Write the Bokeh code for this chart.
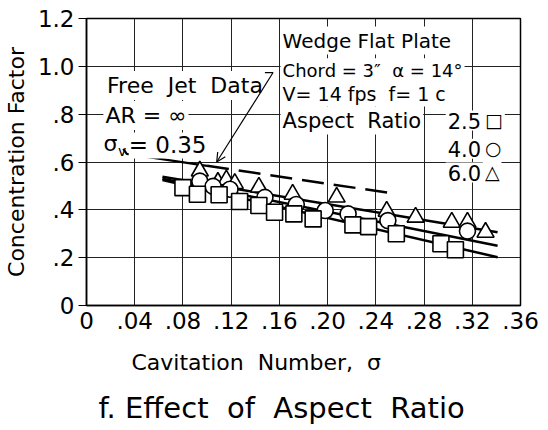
from bokeh.plotting import figure
from bokeh.models import Label, Title, FixedTicker, Arrow, OpenHead
from bokeh.embed import file_html
from bokeh.resources import INLINE

# ---------------- data ----------------
sigma_ar25 = [0.080, 0.092, 0.110, 0.127, 0.143, 0.156, 0.172, 0.188, 0.221, 0.234, 0.257, 0.294, 0.306]
cf_ar25    = [0.493, 0.465, 0.463, 0.435, 0.418, 0.390, 0.383, 0.362, 0.337, 0.330, 0.300, 0.258, 0.233]

sigma_ar40 = [0.094, 0.105, 0.119, 0.148, 0.174, 0.198, 0.217, 0.250, 0.316]
cf_ar40    = [0.520, 0.498, 0.486, 0.452, 0.422, 0.397, 0.383, 0.355, 0.311]

sigma_ar60 = [0.094, 0.109, 0.116, 0.123, 0.143, 0.171, 0.2075, 0.249, 0.273, 0.303, 0.316, 0.331]
cf_ar60    = [0.562, 0.515, 0.525, 0.510, 0.495, 0.465, 0.453, 0.394, 0.369, 0.348, 0.348, 0.306]

fit_sigma = [0.063, 0.341]
fit_ar25  = [0.525, 0.202]
fit_ar40  = [0.530, 0.250]
fit_ar60  = [0.538, 0.306]

jet_lead_sigma = [0.0305, 0.0334, 0.100]
jet_lead_cf    = [0.655, 0.634, 0.584]
jet_sigma = [0.100, 0.2535]
jet_cf    = [0.584, 0.469]

x_ticks = [0, 0.04, 0.08, 0.12, 0.16, 0.20, 0.24, 0.28, 0.32, 0.36]
x_tick_labels = ["0", ".04", ".08", ".12", ".16", ".20", ".24", ".28", ".32", ".36"]
y_ticks = [0, 0.2, 0.4, 0.6, 0.8, 1.0, 1.2]
y_tick_labels = ["0", ".2", ".4", ".6", ".8", "1.0", "1.2"]

FONT = "DejaVu Sans"
NB = "\u00a0"

p = figure(width=548, height=430, x_range=(0, 0.36), y_range=(0, 1.2),
           output_backend="svg", toolbar_location=None,
           min_border_left=86, min_border_right=28, min_border_top=18, min_border_bottom=125)
p.background_fill_color = "white"
p.border_fill_color = "white"
p.outline_line_color = "black"
p.outline_line_width = 1.5

# axes
p.xaxis.ticker = FixedTicker(ticks=x_ticks)
p.xaxis.major_label_overrides = {t: l for t, l in zip(x_ticks, x_tick_labels)}
p.yaxis.ticker = FixedTicker(ticks=y_ticks)
p.yaxis.major_label_overrides = {t: l for t, l in zip(y_ticks, y_tick_labels)}
for ax in (p.xaxis, p.yaxis):
    ax.axis_line_color = "black"
    ax.axis_line_width = 1.5
    ax.major_tick_line_color = "black"
    ax.major_tick_line_width = 1
    ax.minor_tick_line_color = None
    ax.major_tick_in = 0
    ax.major_label_text_font = FONT
    ax.major_label_text_color = "black"
    ax.major_label_text_font_size = "23px"
p.xaxis.major_tick_out = 0
p.xaxis.major_label_standoff = 6
p.yaxis.major_tick_out = 8
p.yaxis.major_label_standoff = 4
p.yaxis.axis_label = "Concentration Factor"
p.yaxis.axis_label_text_font = FONT
p.yaxis.axis_label_text_font_size = "22px"
p.yaxis.axis_label_text_font_style = "normal"
p.yaxis.axis_label_text_color = "black"
p.yaxis.axis_label_standoff = 6

p.grid.grid_line_color = "#222222"
p.grid.grid_line_width = 1
p.xgrid.ticker = FixedTicker(ticks=x_ticks)
p.ygrid.ticker = FixedTicker(ticks=y_ticks)

# fitted curves
for fy in (fit_ar25, fit_ar40, fit_ar60):
    p.line(fit_sigma, fy, line_color="black", line_width=2.5)

# free jet data
p.line(jet_lead_sigma, jet_lead_cf, line_color="black", line_width=2.2)
p.line(jet_sigma, jet_cf, line_color="black", line_width=2.5, line_dash="22 10")

# points
p.scatter(sigma_ar60, cf_ar60, marker="triangle", size=17, fill_color="white",
          line_color="black", line_width=1.6)
p.scatter(sigma_ar40, cf_ar40, marker="circle", size=16, fill_color="white",
          line_color="black", line_width=1.6)
p.scatter(sigma_ar25, cf_ar25, marker="square", size=16, fill_color="white",
          line_color="black", line_width=1.6)

# annotations
def lab(x, y, text, size="20px", align="left", pad=2):
    p.add_layout(Label(x=x, y=y, text=text, text_font=FONT, text_font_size=size,
                       text_color="black", text_align=align, text_baseline="alphabetic",
                       background_fill_color="white", padding=pad))

lab(0.161, 1.108, "Wedge Flat Plate")
lab(0.161, 0.982, "Chord = 3\u2033" + NB + " \u03b1 = 14\u00b0", size="18px")
lab(0.161, 0.886, "V= 14 fps" + NB + " f= 1 c", size="19px")
lab(0.161, 0.773, "Aspect" + NB + " Ratio", size="21px")
lab(0.329, 0.773, "2.5", size="21px", align="right")
lab(0.329, 0.655, "4.0", size="21px", align="right")
lab(0.329, 0.556, "6.0", size="21px", align="right")
lab(0.3288, 0.777, "\u25a1", size="19px")
lab(0.3288, 0.659, "\u25cb", size="19px")
lab(0.3288, 0.560, "\u25b3", size="19px")

lab(0.0154, 0.920, "Free" + NB + " Jet" + NB + " Data", size="22px")
lab(0.0140, 0.794, "AR = \u221e", size="22px")
lab(0.0140, 0.677, "\u03c3", size="22px", pad=0)
lab(0.0350, 0.669, "= 0.35", size="23px", pad=0)
p.add_layout(Label(x=0.0262, y=0.646, text="v", text_font=FONT, text_font_size="14px",
                   text_color="black", text_baseline="alphabetic"))

p.line([0.1473, 0.1548], [0.974, 0.974], line_color="black", line_width=1.2)
p.add_layout(Arrow(end=OpenHead(size=9, line_width=1.2, line_color="black"),
                   x_start=0.1548, y_start=0.974, x_end=0.108, y_end=0.600,
                   line_color="black", line_width=1.2))

p.add_layout(Title(text="Cavitation" + NB + " Number," + NB + " \u03c3", align="left", offset=45,
                   standoff=1, padding=(0, 0, 16, 0), text_font=FONT, text_font_size="22px",
                   text_font_style="normal", text_color="black"), "below")
p.add_layout(Title(text="f. Effect" + NB + " of" + NB + " Aspect" + NB + " Ratio", align="left",
                   offset=12, standoff=3, padding=(0, 0, 12, 0), text_font=FONT,
                   text_font_size="29px", text_font_style="normal", text_color="black"), "below")

open("out.html", "w").write(file_html(p, INLINE))
